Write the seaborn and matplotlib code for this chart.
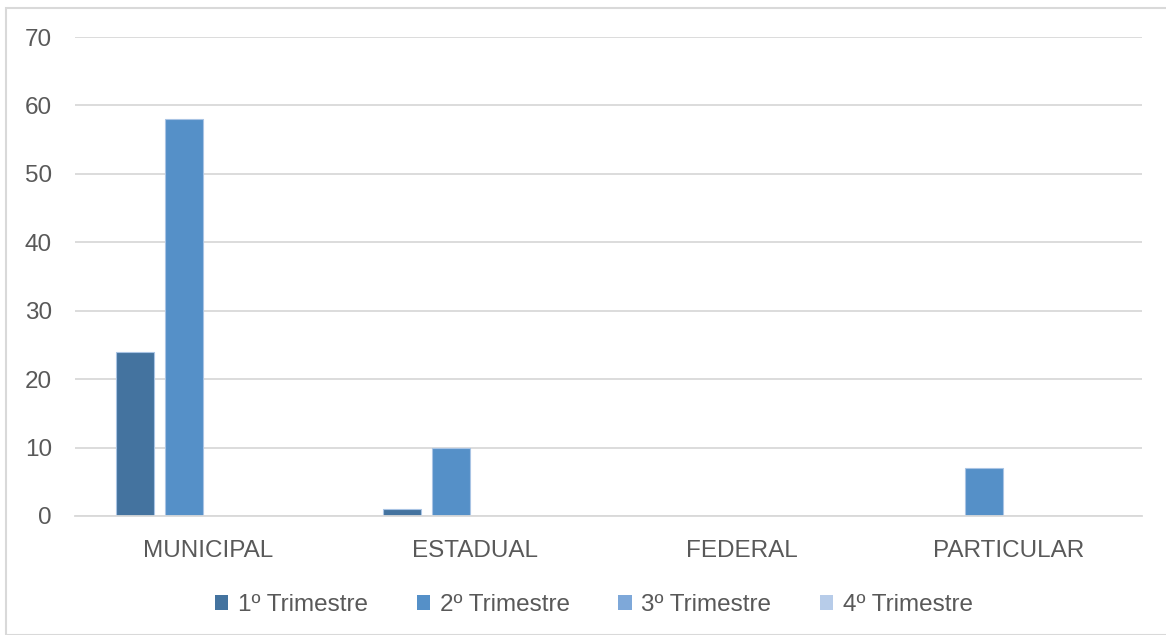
import matplotlib
matplotlib.use("Agg")
import matplotlib.pyplot as plt
from matplotlib.patches import Rectangle
import seaborn as sns
import pandas as pd

categorias = ["MUNICIPAL", "ESTADUAL", "FEDERAL", "PARTICULAR"]
trimestres = ["1º Trimestre", "2º Trimestre", "3º Trimestre", "4º Trimestre"]
tri1 = [24, 1, 0, 0]
tri2 = [58, 10, 0, 7]
tri3 = [0, 0, 0, 0]
tri4 = [0, 0, 0, 0]
y_ticks = [0, 10, 20, 30, 40, 50, 60, 70]

cores = ["#44739f", "#5590c8", "#7ea8d9", "#b7cce9"]

linhas = []
for nome, valores in zip(trimestres, [tri1, tri2, tri3, tri4]):
    for cat, v in zip(categorias, valores):
        linhas.append({"Categoria": cat, "Trimestre": nome, "Valor": v})
df = pd.DataFrame(linhas)

sns.set_theme(style="white")
plt.rcParams["font.family"] = ["Liberation Sans", "DejaVu Sans"]

fig = plt.figure(figsize=(11.66, 6.35), dpi=100)
ax = fig.add_axes([75 / 1166, 1 - 516 / 635, (1142 - 75) / 1166, (516 - 37) / 635])

sns.barplot(data=df, x="Categoria", y="Valor", hue="Trimestre",
            order=categorias, hue_order=trimestres, palette=cores,
            saturation=1, width=0.73, gap=0.22, edgecolor="#a9c4e4",
            linewidth=0.8, errorbar=None, ax=ax, legend=True)

for p in ax.patches:
    if p.get_height() == 0:
        p.set_linewidth(0)

ax.set_ylim(0, 70)
ax.set_yticks(y_ticks)
ax.set_xlim(-0.5, 3.5)
ax.yaxis.grid(True, color="#d9d9d9", linewidth=1.3)
ax.set_axisbelow(True)
for s in ["top", "right", "left"]:
    ax.spines[s].set_visible(False)
ax.spines["bottom"].set_color("#d9d9d9")
ax.spines["bottom"].set_linewidth(1.3)
ax.set_xlabel("")
ax.set_ylabel("")
ax.tick_params(axis="y", length=0, pad=16.5, labelsize=17.5, labelcolor="#595959")
ax.tick_params(axis="x", length=0, pad=17, labelsize=17.5, labelcolor="#595959")

handles, labels = ax.get_legend_handles_labels()
ax.get_legend().remove()
fig.legend(handles, labels, loc="center", ncol=4, frameon=False,
           bbox_to_anchor=(594 / 1166, 1 - 605 / 635),
           fontsize=17.5, labelcolor="#595959", handlelength=0.55,
           handleheight=0.55, handletextpad=0.4, columnspacing=2.0)

fig.patches.append(Rectangle((6 / 1166, 0), 1.1, 1 - 8 / 635, transform=fig.transFigure,
                             fill=False, edgecolor="#d9d9d9", linewidth=1.5))

fig.savefig("out.png", dpi=100)
